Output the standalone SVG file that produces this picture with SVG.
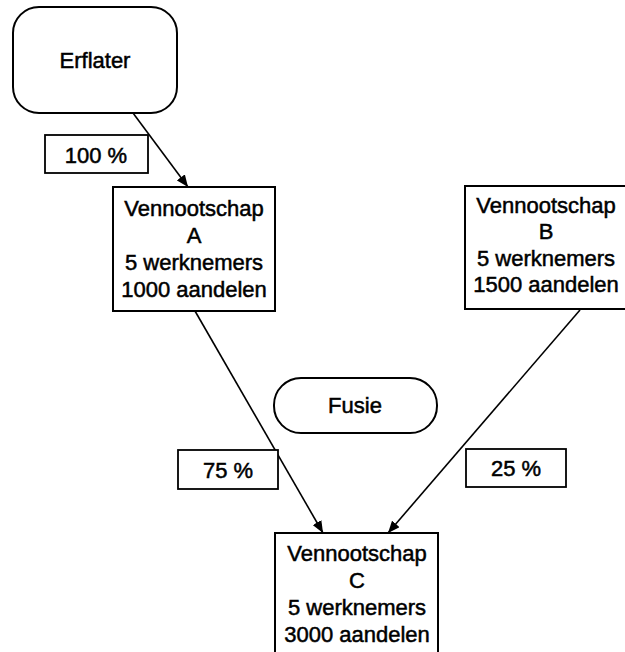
<svg xmlns="http://www.w3.org/2000/svg" width="625" height="652" viewBox="0 0 625 652">
<style>
  .box { fill: #fff; stroke: #000; stroke-width: 2; }
  .lbl { fill: #fff; stroke: #000; stroke-width: 1.8; }
  .t { font-family: "Liberation Sans", Arial, sans-serif; font-size: 22px; fill: #000; stroke: #000; stroke-width: 0.5; text-anchor: middle; }
  .conn { stroke: #000; stroke-width: 1.6; fill: none; marker-end: url(#ah); }
</style>
<defs>
  <marker id="ah" viewBox="0 0 12 10" refX="12" refY="5" markerWidth="12" markerHeight="10" markerUnits="userSpaceOnUse" orient="auto">
    <path d="M0,0 L12,5 L0,10 Z" fill="#000"/>
  </marker>
</defs>
<rect width="625" height="652" fill="#fff"/>
<g id="connectors">
  <line class="conn" x1="133" y1="113" x2="188" y2="187"/>
  <line class="conn" x1="195" y1="311" x2="323" y2="533"/>
  <line class="conn" x1="580" y1="310" x2="388" y2="533"/>
</g>
<g id="erflater">
  <rect class="box" x="13" y="7" width="164" height="106" rx="26" ry="26"/>
  <text class="t" x="95" y="68">Erflater</text>
</g>
<g id="label-100">
  <rect class="lbl" x="45" y="135" width="103" height="38"/>
  <text class="t" x="96" y="163">100 %</text>
</g>
<g id="vennootschap-a">
  <rect class="box" x="113" y="187" width="162" height="124"/>
  <text class="t" x="194" y="216">Vennootschap</text>
  <text class="t" x="194" y="243">A</text>
  <text class="t" x="194" y="270">5 werknemers</text>
  <text class="t" x="194" y="297">1000 aandelen</text>
</g>
<g id="vennootschap-b">
  <rect class="box" x="465" y="186" width="162" height="123"/>
  <text class="t" x="546" y="213">Vennootschap</text>
  <text class="t" x="546" y="239">B</text>
  <text class="t" x="546" y="266">5 werknemers</text>
  <text class="t" x="546" y="292">1500 aandelen</text>
</g>
<g id="fusie">
  <rect class="box" x="274" y="378" width="163" height="55" rx="27" ry="27"/>
  <text class="t" x="355" y="413">Fusie</text>
</g>
<g id="label-75">
  <rect class="lbl" x="178" y="450" width="100" height="39"/>
  <text class="t" x="228" y="478">75 %</text>
</g>
<g id="label-25">
  <rect class="lbl" x="466" y="449" width="100" height="38"/>
  <text class="t" x="516" y="476">25 %</text>
</g>
<g id="vennootschap-c">
  <rect class="box" x="275" y="533" width="163" height="130"/>
  <text class="t" x="357" y="561">Vennootschap</text>
  <text class="t" x="357" y="588">C</text>
  <text class="t" x="357" y="615">5 werknemers</text>
  <text class="t" x="357" y="642">3000 aandelen</text>
</g>
</svg>
